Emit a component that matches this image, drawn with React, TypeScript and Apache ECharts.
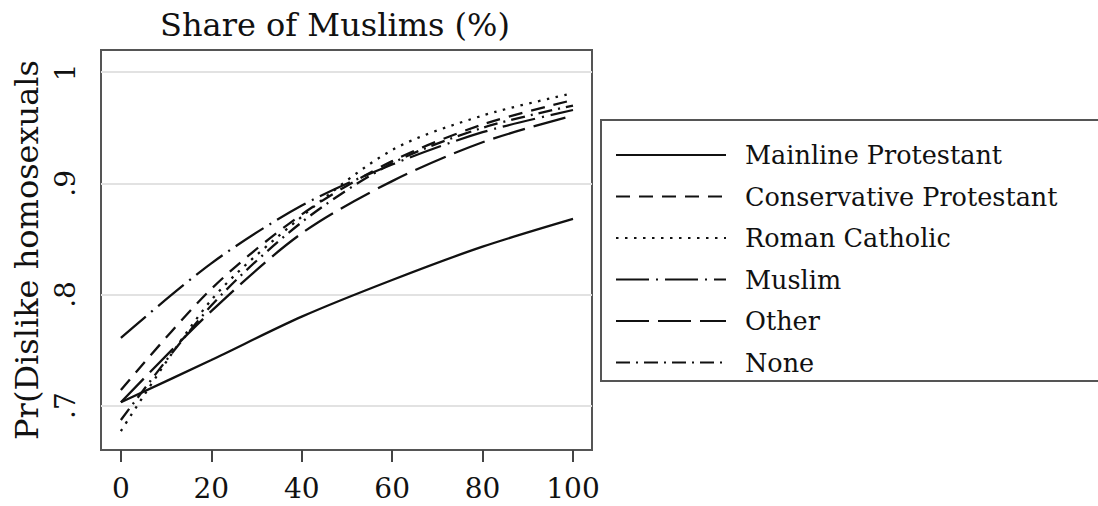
import React, { useEffect, useRef } from "react";
import * as echarts from "echarts";

const xValues = [0, 20, 40, 60, 80, 100];
const seriesNames = [
  "Mainline Protestant",
  "Conservative Protestant",
  "Roman Catholic",
  "Muslim",
  "Other",
  "None",
];
const mainline = [0.703, 0.741, 0.78, 0.813, 0.843, 0.868];
const conservative = [0.714, 0.805, 0.872, 0.92, 0.953, 0.975];
const catholic = [0.677, 0.795, 0.87, 0.93, 0.961, 0.981];
const muslim = [0.761, 0.828, 0.88, 0.917, 0.946, 0.966];
const other = [0.703, 0.785, 0.855, 0.902, 0.937, 0.961];
const none = [0.687, 0.79, 0.865, 0.918, 0.95, 0.97];
const xTicks = [0, 20, 40, 60, 80, 100];
const yTicks = [0.7, 0.8, 0.9, 1];

const FONT = "DejaVu Serif";

const valuesList = [mainline, conservative, catholic, muslim, other, none];
const dashList: any[] = [
  "solid",
  [14, 9],
  [2.5, 6.5],
  [33, 7, 2, 7],
  [33, 9],
  [14, 6, 2, 6],
];

export default function App() {
  const ref = useRef<HTMLDivElement>(null);
  useEffect(() => {
    document.body.style.margin = "0";
    if (!ref.current) return;
    const chart = echarts.init(ref.current, undefined, { renderer: "svg" });
    const series: any[] = seriesNames.map((name, i) => ({
      name,
      type: "line",
      data: xValues.map((x, j) => [x, valuesList[i][j]]),
      smooth: 0.3,
      symbol: "none",
      z: 3,
      lineStyle: { color: "#111", width: 2.3, type: dashList[i] },
      itemStyle: { color: "#111" },
      ...(i === 0
        ? {
            markLine: {
              silent: true,
              z: 1,
              symbol: ["none", "none"],
              label: { show: false },
              lineStyle: { color: "#e2e2e2", width: 2, type: "solid" },
              data: yTicks.map((v) => ({ yAxis: v })),
            },
          }
        : {}),
    }));
    chart.setOption({
      animation: false,
      backgroundColor: "#fff",
      title: {
        text: "Share of Muslims (%)",
        left: 330,
        top: 4,
        textAlign: "center",
        textStyle: { fontFamily: FONT, fontSize: 32, fontWeight: "normal", color: "#111" },
      },
      grid: {
        left: 101,
        right: 506,
        top: 50,
        bottom: 56,
        show: true,
        borderColor: "#555",
        borderWidth: 2,
        backgroundColor: "transparent",
      },
      xAxis: {
        type: "value",
        min: -4.4,
        max: 104.2,
        axisLine: { show: false },
        splitLine: { show: false },
        axisTick: {
          show: true,
          length: 12,
          customValues: xTicks,
          lineStyle: { color: "#444", width: 2 },
        },
        axisLabel: {
          customValues: xTicks,
          margin: 24,
          fontFamily: FONT,
          fontSize: 28,
          color: "#111",
        },
      },
      yAxis: {
        type: "value",
        min: 0.66,
        max: 1.02,
        name: "Pr(Dislike homosexuals",
        nameLocation: "middle",
        nameGap: 58,
        nameTextStyle: { fontFamily: FONT, fontSize: 32, color: "#111" },
        axisLine: { show: false },
        splitLine: { show: false },
        axisTick: {
          show: true,
          length: 9,
          customValues: yTicks,
          lineStyle: { color: "#444", width: 2 },
        },
        axisLabel: {
          customValues: yTicks,
          rotate: 90,
          margin: 22,
          fontFamily: FONT,
          fontSize: 28,
          color: "#111",
          formatter: (v: number) => (v >= 1 ? "1" : String(Math.round(v * 10) / 10).replace(/^0/, "")),
        },
      },
      legend: {
        orient: "vertical",
        left: 615,
        top: 142,
        padding: 0,
        itemWidth: 110,
        itemHeight: 14,
        itemGap: 15.5,
        selectedMode: false,
        data: seriesNames,
        itemStyle: { opacity: 0, color: "rgba(0,0,0,0)", borderWidth: 0 },
        textStyle: { fontFamily: FONT, fontSize: 25.5, color: "#111", padding: [0, 0, 0, 14] },
      },
      graphic: [
        {
          type: "rect",
          shape: { x: 601, y: 120, width: 540, height: 261 },
          style: { fill: "none", stroke: "#555", lineWidth: 2 },
          silent: true,
        },
      ],
      series,
    });
    return () => chart.dispose();
  }, []);
  return <div ref={ref} style={{ width: 1098, height: 506 }} />;
}
